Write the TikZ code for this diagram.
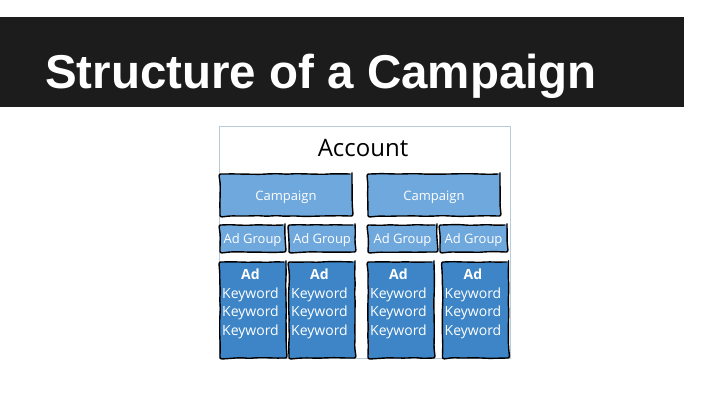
\documentclass[tikz,border=0pt]{standalone}
\usepackage{fontspec}
\setmainfont{Liberation Sans}
\newfontfamily\boxfont{Open Sans}
\usetikzlibrary{decorations.pathmorphing}
\definecolor{band}{HTML}{1C1C1C}
\definecolor{lightblue}{HTML}{6FA8DC}
\definecolor{darkblue}{HTML}{3D85C6}
\definecolor{framegray}{HTML}{B9CAD9}
\begin{document}
\begin{tikzpicture}[x=1pt, y=-1pt, line join=round, line cap=round,
	sketch/.style={draw=black, line width=1.4pt, rounded corners=2pt,
		decorate, decoration={random steps, segment length=9pt, amplitude=0.4pt}},
	campbox/.style={sketch, fill=lightblue, minimum height=42pt, minimum width=132pt},
	groupbox/.style={sketch, fill=lightblue, minimum height=27pt},
	adbox/.style={sketch, fill=darkblue, minimum height=96pt, minimum width=66pt},
	boxtext/.style={text=white, inner sep=0pt, font=\boxfont\fontsize{#1}{18.5}\selectfont},
	boxtext/.default=13]
	\useasboundingbox (0,0) rectangle (720,405);
	% title band
	\fill[band] (0,17) rectangle (684,107);
	\node[anchor=base west, text=white, font=\bfseries\fontsize{47.5}{50}\selectfont, inner sep=0pt]
		(title) at (45,88) {Structure of a Campaign};
	% account frame
	\draw[framegray, line width=0.8pt] (219,126) rectangle (510,358);
	\node[font=\boxfont\fontsize{24}{26}\selectfont] (account) at (363,148.5) {Account};
	% campaigns
	\foreach \n/\x in {1/286, 2/434}{
	\node[campbox] (camp\n) at (\x,195) {};
	\node[boxtext=13] (camptext\n) at (\x,197) {Campaign};}
	% ad groups
	\foreach \n/\x/\w in {1/252.5/65, 2/322/66, 3/402.5/69, 4/473.5/67}{
	\node[groupbox, minimum width=\w pt] (group\n) at (\x,238.5) {};
	\node[boxtext=13] (grouptext\n) at (\x,240) {Ad Group};}
	% ads
	\foreach \n/\x in {1/253, 2/322, 3/401, 4/475.5}{
	\node[adbox] (ad\n) at (\x,310) {};
	\node[boxtext=14, align=center] (adtext\n) at (\x-2.5,304)
		{\textbf{Ad}\\Keyword\\Keyword\\Keyword};}
\end{tikzpicture}
\end{document}
